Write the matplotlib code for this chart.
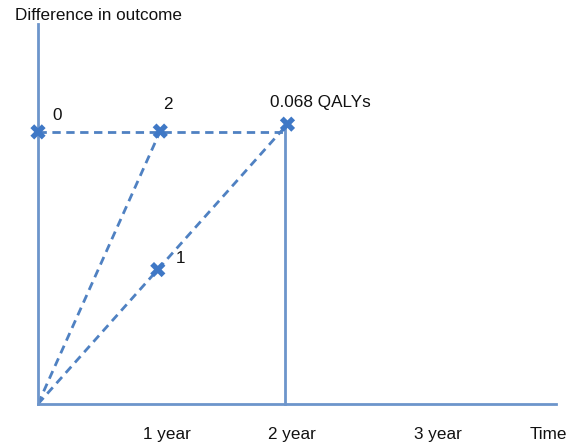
import matplotlib
matplotlib.use("Agg")
import matplotlib.pyplot as plt

plt.rcParams['font.family'] = ['Liberation Sans', 'DejaVu Sans']

# Data (time in years, difference in outcome in QALYs)
point_labels = ["0", "2", "0.068 QALYs", "1"]
point_t = [0.0, 0.99, 2.02, 0.97]
point_v = [0.0668, 0.0670, 0.0687, 0.033]
tick_labels = ["1 year", "2 year", "3 year", "Time"]
tick_label_pos = [1.04, 2.06, 3.24, 4.13]
y_title = "Difference in outcome"

W, H = 571, 446
fig = plt.figure(figsize=(W / 100, H / 100), dpi=100)
ox, oy, ex, ey = 38, 404, 556, 24
ax = fig.add_axes([ox / W, (H - oy) / H, (ex - ox) / W, (oy - ey) / H])
xmax = (ex - ox) / 123.5
ymax = 0.068 * (oy - ey) / (oy - 127)
ax.set_xlim(0, xmax)
ax.set_ylim(0, ymax)
ax.set_xticks([])
ax.set_yticks([])
for s in ["top", "right"]:
    ax.spines[s].set_visible(False)
for s in ["left", "bottom"]:
    ax.spines[s].set_color("#6d95cb")
    ax.spines[s].set_linewidth(2)
ax.patch.set_alpha(0)

dash_c = "#4f81c2"
dash_kw = dict(color=dash_c, lw=2, linestyle=(0, (3, 2)), zorder=2)
# horizontal dashed line at the level of point "0"
ax.plot([point_t[0], point_t[2] - 0.04], [point_v[0], point_v[0]], **dash_kw)
# diagonals from the origin
ax.plot([0, point_t[1]], [0, point_v[1]], **dash_kw)
ax.plot([0, point_t[3], point_t[2]], [0, point_v[3], point_v[2]], **dash_kw)
# solid vertical at 2 years
ax.plot([point_t[2] - 0.02, point_t[2] - 0.02], [0, point_v[2]], color="#6d95cb", lw=2, zorder=2, clip_on=False)

ax.scatter(point_t, point_v, marker="X", s=120, color="#3f78c6", edgecolors="none", zorder=3, clip_on=False)

# point labels (offsets in pixels)
offsets = [(19, 16), (8, 27), (33, 22), (23, 11)]
for lab, t, v, off in zip(point_labels, point_t, point_v, offsets):
    ax.annotate(lab, (t, v), xytext=off, textcoords="offset pixels", ha="center", va="center",
                fontsize=12.3, color="#111111")

for lab, pos in zip(tick_labels, tick_label_pos):
    ax.text(pos, -0.0074, lab, ha="center", va="center", fontsize=12.3, color="#111111",
            transform=ax.transData, clip_on=False)

fig.text(15 / W, 1 - 15 / H, y_title, ha="left", va="center", fontsize=12.3, color="#111111")

fig.savefig("out.png", dpi=100)
